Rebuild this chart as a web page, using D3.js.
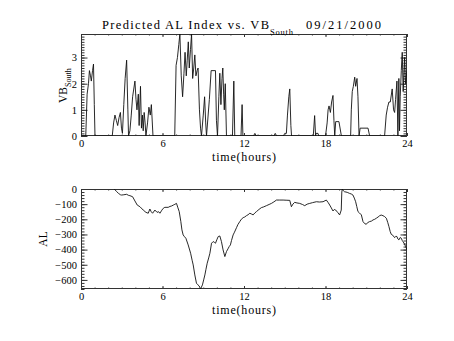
<!DOCTYPE html>
<html>
<head>
<meta charset="utf-8">
<script src="https://cdn.jsdelivr.net/npm/d3@7"></script>
<style>
  body { margin: 0; background: #fff; }
  svg text { font-family: "Liberation Serif", "DejaVu Serif", serif; fill: #000; }
</style>
</head>
<body>
<svg id="chart" width="454" height="341"></svg>
<script>
// Southward IMF component (nT), time in hours UT
const vbTime = [
  0.0, 0.35, 0.45, 0.55, 0.62, 0.7, 0.76, 0.85, 0.92, 0.98, 1.03,
  2.3, 2.4, 2.5, 2.6, 2.7, 2.8, 2.9, 2.98, 3.05, 3.15, 3.25, 3.36, 3.45, 3.5,
  3.6, 3.7, 3.8, 3.97, 4.05, 4.12, 4.22, 4.28, 4.38, 4.45, 4.52, 4.58, 4.65, 4.72, 4.78,
  4.9, 5.0, 5.1, 5.18, 5.3,
  6.9, 7.0, 7.1, 7.2, 7.28, 7.38, 7.48, 7.58, 7.66, 7.75, 7.82, 7.9, 7.97, 8.06, 8.14,
  8.22, 8.3, 8.38, 8.46, 8.55, 8.62, 8.72, 8.8, 8.87, 9.0, 9.1, 9.18, 9.24,
  9.45, 9.58, 9.9, 9.97, 10.05, 10.15, 10.22, 10.3, 10.38, 10.44, 10.5, 10.55, 10.62, 10.71,
  11.15, 11.25, 11.32, 11.78, 11.86, 11.92, 12.7, 12.8, 12.9, 14.2, 14.3, 14.4,
  14.9, 15.0, 15.12, 15.2, 15.3, 15.37, 15.45, 15.5,
  17.1, 17.2, 17.27, 17.3, 17.45, 17.5,
  18.0, 18.12, 18.19, 18.26, 18.36, 18.45, 18.55, 18.62, 18.68, 18.75, 18.99, 19.17,
  19.85, 19.9, 19.97, 20.05, 20.15, 20.22, 20.32, 20.39, 20.47, 20.55, 21.13, 21.25,
  22.35, 22.47, 22.57, 22.67, 22.77, 22.91, 23.01, 23.09, 23.16, 23.26, 23.33, 23.4,
  23.45, 23.5, 23.58, 23.65, 23.72, 23.82, 23.89, 24.0
];
const vbSouth = [
  0, 0, 1.6, 2.0, 2.5, 2.3, 2.1, 2.5, 2.75, 1.2, 0,
  0, 0.5, 0.8, 0.6, 0.4, 0.7, 0.9, 0.3, 0.1, 1.2, 2.2, 2.9, 1.0, 0,
  0.2, 0.8, 1.5, 2.1, 1.4, 1.0, 1.6, 0.4, 1.9, 0.3, 0.8, 0.2, 0.9, 0.5, 0,
  0.5, 1.1, 0.8, 1.2, 0,
  0, 2.7, 3.0, 3.5, 3.9, 2.3, 1.5, 2.4, 3.2, 2.3, 2.9, 3.6, 2.6, 3.3, 3.9,
  2.2, 2.6, 3.1, 2.3, 2.5, 2.6, 1.0, 0.3, 0, 0.8, 1.5, 0.5, 0,
  1.4, 2.5, 2.5, 0.6, 0, 1.5, 2.4, 1.2, 2.2, 2.6, 1.6, 1.0, 2.0, 0,
  0, 2.1, 0, 0, 1.2, 0, 0, 0.1, 0, 0, 0.1, 0,
  0, 0.1, 0.1, 0.8, 1.5, 1.8, 0.4, 0,
  0, 0.78, 0, 0.1, 0.1, 0,
  0, 0.5, 1.0, 1.15, 0.9, 1.3, 1.55, 0.6, 0, 0.55, 0.55, 0,
  0, 1.0, 1.7, 1.9, 2.25, 1.9, 2.2, 1.5, 0, 0.3, 0.3, 0,
  0, 0.8, 1.1, 1.3, 1.3, 1.8, 1.0, 0.9, 1.4, 2.1, 0, 2.2,
  0.2, 1.5, 2.5, 3.2, 1.7, 3.0, 2.0, 2.5
];

// Predicted AL index (nT)
const alTime = [
  2.45, 2.6, 2.75, 2.9, 2.99, 3.15, 3.36, 3.5, 3.6, 3.8, 3.97, 4.14, 4.34, 4.58, 4.78,
  4.95, 5.07, 5.17, 5.27, 5.44, 5.6, 5.72, 5.81, 5.95, 6.05, 6.17, 6.42, 6.55, 6.67,
  6.8, 6.91, 7.03, 7.12, 7.23, 7.35, 7.43, 7.52, 7.62, 7.72, 7.89, 8.07, 8.18, 8.26,
  8.38, 8.5, 8.6, 8.7, 8.8, 8.94, 9.03, 9.12, 9.2, 9.29, 9.4, 9.49, 9.61, 9.73, 9.82,
  9.9, 10.0, 10.1, 10.22, 10.34, 10.46, 10.59, 10.71, 10.82, 10.91, 11.0, 11.08, 11.2,
  11.3, 11.45, 11.55, 11.69, 11.8, 11.94, 12.05, 12.18, 12.3, 12.43, 12.55, 12.67,
  12.8, 12.92, 13.1, 13.28, 13.45, 13.65, 13.85, 14.02, 14.2, 14.39, 14.6, 14.88,
  15.1, 15.37, 15.49, 15.6, 15.73, 15.9, 16.1, 16.3, 16.47, 16.65, 16.84, 17.05,
  17.33, 17.55, 17.82, 18.06, 18.2, 18.31, 18.43, 18.55, 18.65, 18.75, 18.9, 19.04,
  19.16, 19.2, 19.24, 19.32, 19.4, 19.6, 19.77, 19.9, 20.02, 20.12, 20.22, 20.3,
  20.39, 20.5, 20.64, 20.76, 20.88, 21.0, 21.1, 21.25, 21.38, 21.5, 21.62, 21.74,
  21.87, 21.99, 22.1, 22.23, 22.35, 22.48, 22.58, 22.67, 22.76, 22.84, 22.95, 23.09,
  23.18, 23.26, 23.33, 23.4, 23.5, 23.58, 23.65, 23.7, 23.8, 23.9, 24.0
];
const alIndex = [
  0, -15, -28, -38, -40, -38, -35, -42, -44, -51, -79, -106, -117, -139, -154,
  -160, -132, -150, -160, -139, -154, -150, -160, -140, -128, -121, -121, -115, -112,
  -106, -101, -95, -120, -149, -215, -270, -303, -315, -325, -369, -424, -470, -501,
  -567, -622, -632, -640, -660, -633, -600, -567, -530, -490, -455, -424, -358, -347, -352,
  -358, -335, -314, -310, -347, -402, -446, -413, -395, -380, -369, -340, -303,
  -285, -255, -235, -215, -200, -189, -185, -176, -170, -160, -165, -171,
  -158, -149, -135, -123, -118, -110, -102, -95, -85, -73, -73, -73,
  -74, -75, -117, -100, -88, -92, -95, -102, -110, -100, -95, -90,
  -84, -86, -84, -73, -90, -106, -125, -145, -135, -139, -155, -171,
  -139, -20, 0, -12, -18, -22, -29, -33, -40, -60, -84, -115,
  -149, -158, -171, -215, -228, -233, -222, -215, -212, -204, -200, -193,
  -185, -176, -172, -176, -182, -193, -220, -248, -280, -299, -305, -321,
  -312, -314, -330, -336, -320, -325, -340, -347, -360, -380, -402
];

const hourTicks = [0, 6, 12, 18, 24];
const hourMinor = d3.range(0, 25, 1);
const vbTicks = [0, 1, 2, 3];
const alTicks = [0, -100, -200, -300, -400, -500, -600];

const svg = d3.select("#chart");
svg.append("rect").attr("width", 454).attr("height", 341).attr("fill", "#fff");

const left = 81, right = 407;
const panels = [
  { top: 34, bottom: 136 },
  { top: 189, bottom: 289 }
];

const x = d3.scaleLinear().domain([0, 24]).range([left, right]);
const yVB = d3.scaleLinear().domain([0, d3.max(vbSouth)]).range([panels[0].bottom, panels[0].top]);
const yAL = d3.scaleLinear().domain([d3.min(alIndex), 0]).range([panels[1].bottom, panels[1].top]);

const axisColor = "#333";

function frame(p, y, majors, minors, clipId) {
  const g = svg.append("g");
  const w = right - left, h = p.bottom - p.top;
  const xMajLen = 3, xMinLen = 1.5, yMajLen = 6.5, yMinLen = 3.5;

  const add = (axis, tx, ty) => {
    const a = g.append("g").attr("transform", `translate(${tx},${ty})`).call(axis);
    a.select(".domain").remove();
    a.selectAll("line").attr("stroke", axisColor);
    a.selectAll("text").attr("font-family", null).attr("fill", "#000").attr("font-size", 10.5);
    return a;
  };
  // bottom (labelled) + top
  add(d3.axisBottom(x).tickValues(hourTicks).tickSizeInner(-xMajLen).tickSizeOuter(0).tickPadding(4).tickFormat(d3.format("d")), 0, p.bottom);
  add(d3.axisBottom(x).tickValues(hourMinor).tickSizeInner(-xMinLen).tickSizeOuter(0).tickFormat(() => ""), 0, p.bottom);
  add(d3.axisTop(x).tickValues(hourTicks).tickSizeInner(-xMajLen).tickSizeOuter(0).tickFormat(() => ""), 0, p.top);
  add(d3.axisTop(x).tickValues(hourMinor).tickSizeInner(-xMinLen).tickSizeOuter(0).tickFormat(() => ""), 0, p.top);
  // left (labelled) + right
  add(d3.axisLeft(y).tickValues(majors).tickSizeInner(-yMajLen).tickSizeOuter(0).tickPadding(4).tickFormat(d3.format("d")), left, 0);
  add(d3.axisLeft(y).tickValues(minors).tickSizeInner(-yMinLen).tickSizeOuter(0).tickFormat(() => ""), left, 0);
  add(d3.axisRight(y).tickValues(majors).tickSizeInner(-yMajLen).tickSizeOuter(0).tickFormat(() => ""), right, 0);
  add(d3.axisRight(y).tickValues(minors).tickSizeInner(-yMinLen).tickSizeOuter(0).tickFormat(() => ""), right, 0);

  g.append("rect")
    .attr("x", left + 0.5).attr("y", p.top + 0.5)
    .attr("width", w - 1).attr("height", h - 1)
    .attr("fill", "none").attr("stroke", axisColor).attr("stroke-width", 1);

  svg.append("clipPath").attr("id", clipId)
    .append("rect").attr("x", left).attr("y", p.top).attr("width", w).attr("height", h);

  svg.append("text")
    .attr("x", (left + right) / 2 - 32).attr("y", p.bottom + 25)
    .attr("font-size", 12)
    .attr("textLength", 64)
    .text("time(hours)");
}

const vbMinor = d3.range(0, yVB.domain()[1] + 1e-9, 0.1).map(v => +v.toFixed(1));
const alMinor = d3.range(0, yAL.domain()[0] - 1e-9, -20);

frame(panels[0], yVB, vbTicks, vbMinor, "clipVB");
frame(panels[1], yAL, alTicks, alMinor, "clipAL");

// data lines
const vbLine = d3.line().x((d, i) => x(vbTime[i])).y(d => yVB(d));
svg.append("path")
  .attr("d", vbLine(vbSouth))
  .attr("clip-path", "url(#clipVB)")
  .attr("fill", "none").attr("stroke", "#111").attr("stroke-width", 0.9);

const alLine = d3.line().x((d, i) => x(alTime[i])).y(d => yAL(d));
svg.append("path")
  .attr("d", alLine(alIndex))
  .attr("clip-path", "url(#clipAL)")
  .attr("fill", "none").attr("stroke", "#111").attr("stroke-width", 0.9);

// title
const title = svg.append("text").attr("y", 29).attr("font-size", 12.5);
title.append("tspan").attr("x", 102).attr("textLength", 167).text("Predicted AL Index vs. VB");
title.append("tspan").attr("x", 270).attr("y", 35).attr("font-size", 8.5).attr("textLength", 23).text("South");
title.append("tspan").attr("x", 306).attr("y", 29).attr("textLength", 75).text("09/21/2000");

// y-axis titles
const vbLabel = svg.append("text")
  .attr("transform", "translate(67,103) rotate(-90)")
  .attr("font-size", 11.5);
vbLabel.append("tspan").text("VB");
vbLabel.append("tspan").attr("dy", 3.5).attr("font-size", 8).text("South");

svg.append("text")
  .attr("transform", "translate(47,239) rotate(-90)")
  .attr("text-anchor", "middle")
  .attr("font-size", 11.5)
  .text("AL");
</script>
</body>
</html>
